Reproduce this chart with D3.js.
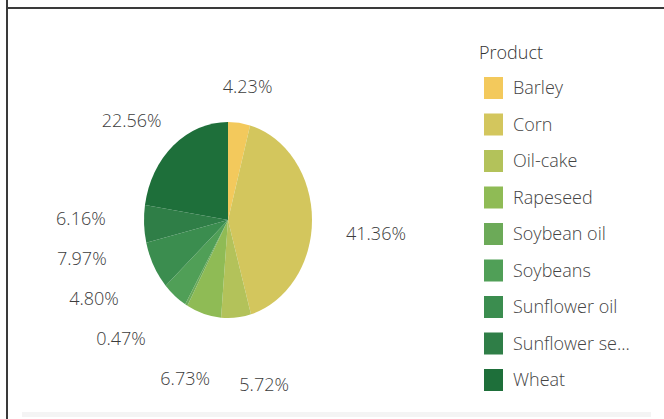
<!DOCTYPE html>
<html>
<head>
<meta charset="utf-8">
<script src="https://cdn.jsdelivr.net/npm/d3@7"></script>
<style>
  body { margin: 0; background: #fff; }
  text { font-family: "Open Sans", sans-serif; font-weight: 300; }
</style>
</head>
<body>
<div id="container"></div>
<script>
// Pie of product share, Tableau style

const products = ["Barley", "Corn", "Oil-cake", "Rapeseed", "Soybean oil", "Soybeans", "Sunflower oil", "Sunflower seeds", "Wheat"]
const shares = [4.23, 41.36, 5.72, 6.73, 0.47, 4.80, 7.97, 6.16, 22.56]
const colors = ["#f3c95c", "#d3c65d", "#b3c25a", "#8fbb55", "#6caa58", "#509f57", "#3b8d4f", "#2f7e47", "#1e6f3a"]

const width = 664,
    height = 419

const svg = d3.select("#container").append("svg")
    .attr("width", width)
    .attr("height", height)

// frame lines
svg.append("line").attr("x1", 7).attr("x2", 7).attr("y1", 0).attr("y2", height)
    .attr("stroke", "#3a3a3a").attr("stroke-width", 2)
svg.append("line").attr("x1", 7).attr("x2", width).attr("y1", 8).attr("y2", 8)
    .attr("stroke", "#3a3a3a").attr("stroke-width", 2)
svg.append("rect").attr("x", 22).attr("y", 412).attr("width", 629).attr("height", 5)
    .attr("fill", "#f4f4f4")

const data = products.map((p, i) => ({ product: p, share: shares[i] }))

const color = d3.scaleOrdinal().domain(products).range(colors)

// pie is an ellipse: draw a circle and squash it
const cx = 228, cy = 220
const ry = 98, rx = 84

const pie = d3.pie().value(d => d.share).sort(null)
const arcs = pie(data)
const arc = d3.arc().innerRadius(0).outerRadius(ry)

svg.append("g")
    .attr("transform", `translate(${cx},${cy}) scale(${rx / ry},1)`)
    .selectAll("path")
    .data(arcs)
    .enter()
    .append("path")
    .attr("d", arc)
    .attr("fill", d => color(d.data.product))

// labels on an outer ellipse, left side relaxed to avoid overlap
const lcx = 228, lcy = 235, lrx = 148, lry = 150
const labels = arcs.map(a => {
    let m = (a.startAngle + a.endAngle) / 2
    return { text: a.data.share.toFixed(2) + "%", angle: m, x: lcx + lrx * Math.sin(m), y: lcy - lry * Math.cos(m) }
})
let left = labels.filter(l => l.angle > Math.PI).sort((a, b) => b.y - a.y)
for (let i = 1; i < left.length; i++) {
    if (left[i].y > left[i - 1].y - 40) left[i].y = left[i - 1].y - 40
}
left.forEach(l => {
    let t = Math.max(-1, Math.min(1, (l.y - lcy) / lry))
    l.x = lcx - lrx * Math.sqrt(1 - t * t)
})
// labels sharing a row: push the later one to the right
labels.forEach((l, i) => {
    labels.forEach((o, j) => {
        if (j < i && Math.abs(o.y - l.y) < 20 && Math.abs(o.x - l.x) < 79) {
            if (l.x > o.x) l.x = o.x + 79
            else o.x = l.x + 79
        }
    })
})

svg.append("g").selectAll("text")
    .data(labels)
    .enter()
    .append("text")
    .attr("x", d => d.x)
    .attr("y", d => d.y)
    .attr("dy", "0.35em")
    .attr("text-anchor", "middle")
    .style("font-size", "18px")
    .attr("fill", "#3c3c3c")
    .text(d => d.text)

// legend
const legend = svg.append("g").attr("id", "legend")
legend.append("text")
    .attr("x", 479).attr("y", 59)
    .style("font-size", "18px")
    .attr("fill", "#333")
    .text("Product")

const rowY = d3.scalePoint().domain(products).range([88, 380])
const items = legend.selectAll(".item")
    .data(products)
    .enter()
    .append("g")
    .attr("class", "item")
    .attr("transform", d => `translate(0,${rowY(d)})`)

items.append("rect")
    .attr("x", 484).attr("y", -11)
    .attr("width", 19).attr("height", 22)
    .attr("fill", d => color(d))

items.append("text")
    .attr("x", 513).attr("dy", "0.35em")
    .style("font-size", "18px")
    .attr("fill", "#444")
    .text(d => d.length > 14 ? d.slice(0, 12) + "..." : d)
</script>
</body>
</html>
